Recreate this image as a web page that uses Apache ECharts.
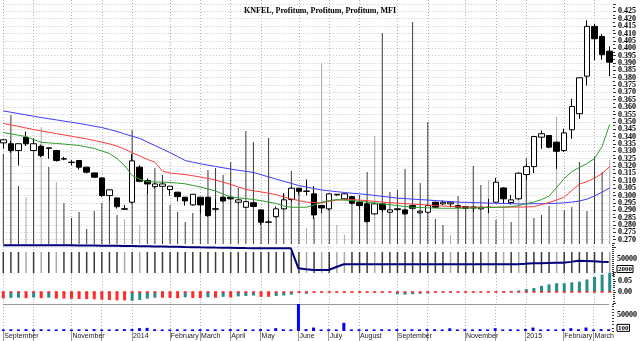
<!DOCTYPE html>
<html><head><meta charset="utf-8">
<script src="https://cdn.jsdelivr.net/npm/echarts@6/dist/echarts.min.js"></script>
<style>html,body{margin:0;padding:0;background:#fff}#c{width:640px;height:341px}</style>
</head><body><div id="c"></div>
<script>
const chartTitle = 'KNFEL, Profitum, Profitum, Profitum, MFI';
const weeks = [];
{ const d0 = Date.UTC(2013, 8, 6); for (let i = 0; i < 81; i++) { weeks.push(new Date(d0 + i * 7 * 86400000).toISOString().slice(0, 10)); } }
const monthTickIdx = [0,4,9,13,17,22,26,30,34,39,43,47,52,56,61,65,69,74,78];
const labelIdx = [0,9,17,22,26,30,34,39,43,47,52,61,69,74,78];
const labelText = ['September','November','2014','February','March','April','May','June','July','August','September','November','2015','February','March'];

const open = [0.3357,0.3351,0.3305,0.3395,0.3305,0.3334,0.3323,0.3305,0.3249,0.3226,
0.3237,0.3192,0.3153,0.3119,0.2999,0.2983,0.2909,0.2954,0.3192,0.3101,
0.3060,0.3062,0.3040,0.3022,0.2988,0.2936,0.2988,0.2988,0.2909,0.2988,
0.2988,0.2954,0.2920,0.2950,0.2902,0.2820,0.2856,0.2909,0.2972,0.3049,
0.3030,0.3011,0.2931,0.2909,0.3004,0.2977,0.2992,0.2954,0.2943,0.2875,
0.2943,0.2886,0.2909,0.2902,0.2931,0.2882,0.2886,0.2954,0.2943,0.2943,
0.2931,0.2924,0.2922,0.2909,0.2920,0.2954,0.3051,0.2952,0.2977,0.3142,
0.3196,0.3396,0.3407,0.3362,0.3305,0.3446,0.3555,0.3810,0.4148,0.4080,
0.3980];
const close = [0.3378,0.3305,0.3351,0.3351,0.3351,0.3271,0.3320,0.3237,0.3247,0.3224,
0.3192,0.3158,0.3124,0.2999,0.3038,0.2924,0.2907,0.3235,0.3096,0.3078,
0.3078,0.3078,0.3063,0.2992,0.2963,0.3008,0.2936,0.2863,0.2907,0.2963,
0.2977,0.2970,0.2958,0.2925,0.2818,0.2818,0.2909,0.2970,0.3049,0.3028,
0.3028,0.2868,0.2915,0.3011,0.3008,0.3011,0.2947,0.2931,0.2823,0.2943,
0.2904,0.2902,0.2904,0.2875,0.2913,0.2893,0.2931,0.2920,0.2954,0.2954,
0.2920,0.2913,0.2915,0.2920,0.2918,0.3090,0.2977,0.2970,0.3151,0.3196,
0.3400,0.3419,0.3328,0.3300,0.3425,0.3604,0.3799,0.4148,0.4064,0.3956,
0.3905];
const low = [0.3317,0.3290,0.3203,0.3335,0.3300,0.3260,0.3249,0.3230,0.3240,0.3205,
0.3176,0.3150,0.3120,0.2990,0.2965,0.2911,0.2905,0.2945,0.3090,0.3011,
0.3050,0.3055,0.2999,0.2960,0.2931,0.2930,0.2877,0.2855,0.2890,0.2955,
0.2970,0.2945,0.2915,0.2920,0.2800,0.2810,0.2850,0.2905,0.2960,0.3006,
0.3000,0.2841,0.2880,0.2900,0.2998,0.2970,0.2940,0.2905,0.2815,0.2870,
0.2885,0.2880,0.2895,0.2870,0.2905,0.2878,0.2880,0.2915,0.2935,0.2920,
0.2915,0.2905,0.2890,0.2905,0.2880,0.2950,0.2943,0.2938,0.2970,0.3106,
0.3151,0.3317,0.3320,0.3181,0.3295,0.3385,0.3521,0.3747,0.3917,0.3922,
0.3810];
const high = [0.3380,0.3370,0.3355,0.3434,0.3387,0.3345,0.3325,0.3310,0.3262,0.3240,
0.3240,0.3195,0.3155,0.3122,0.3040,0.2985,0.2936,0.3280,0.3205,0.3115,
0.3085,0.3100,0.3065,0.3025,0.2990,0.3010,0.2990,0.2990,0.2975,0.2990,
0.2992,0.2975,0.2960,0.2952,0.2905,0.2835,0.2925,0.3013,0.3060,0.3052,
0.3108,0.3063,0.2935,0.3015,0.3010,0.3015,0.2995,0.2958,0.2960,0.2950,
0.2948,0.2905,0.2912,0.2905,0.2935,0.2897,0.2935,0.2958,0.2965,0.2958,
0.2935,0.2928,0.2925,0.2922,0.2977,0.3119,0.3055,0.3004,0.3155,0.3215,
0.3405,0.3441,0.3410,0.3365,0.3453,0.3656,0.3800,0.4189,0.4166,0.4095,
0.4012];

const blueMA = [.3574,.3565,.3556,.3547,.3538,.3529,.3521,.3513,.3505,.3497,
.3489,.3480,.3470,.3461,.3448,.3434,.3418,.3402,.3387,.3363,
.3339,.3315,.3291,.3264,.3237,.3226,.3215,.3206,.3197,.3188,
.3179,.3171,.3164,.3156,.3141,.3126,.3111,.3096,.3082,.3067,
.3057,.3047,.3037,.3031,.3026,.3020,.3015,.3011,.3006,.3000,
.2994,.2988,.2982,.2979,.2975,.2972,.2969,.2965,.2962,.2958,
.2955,.2953,.2951,.2950,.2948,.2947,.2946,.2944,.2943,.2943,
.2944,.2944,.2945,.2947,.2950,.2955,.2962,.2975,.2996,.3023,
.3051];
const redMA = [.3489,.3479,.3469,.3458,.3448,.3438,.3429,.3420,.3411,.3402,
.3393,.3384,.3373,.3362,.3350,.3335,.3315,.3290,.3268,.3245,
.3226,.3165,.3152,.3147,.3142,.3134,.3125,.3115,.3105,.3090,
.3075,.3058,.3040,.3032,.3024,.3015,.3006,.2990,.2977,.2965,
.2955,.2952,.2950,.2960,.2969,.2971,.2972,.2968,.2965,.2960,
.2955,.2951,.2948,.2945,.2941,.2938,.2935,.2931,.2928,.2926,
.2923,.2921,.2920,.2920,.2920,.2920,.2920,.2921,.2921,.2922,
.2924,.2938,.2952,.2969,.2989,.3033,.3077,.3094,.3118,.3149,
.3196];
const greenMA = [.3427,.3418,.3409,.3400,.3380,.3361,.3357,.3353,.3349,.3344,
.3339,.3329,.3319,.3302,.3285,.3251,.3203,.3135,.3111,.3094,
.3091,.3090,.3088,.3084,.3079,.3068,.3057,.3044,.3030,.3010,
.2989,.2984,.2979,.2972,.2965,.2955,.2945,.2928,.2920,.2920,
.2920,.2935,.2954,.2965,.2972,.2969,.2965,.2960,.2955,.2949,
.2943,.2937,.2931,.2925,.2920,.2918,.2916,.2914,.2913,.2913,
.2913,.2914,.2915,.2916,.2918,.2919,.2921,.2924,.2931,.2945,
.2955,.2972,.2996,.3054,.3115,.3162,.3190,.3217,.3251,.3333,
.3482];

const profitumBars = [90,129,58,47,105,117,77,62,41,26,
32,15,33,41,46,29,25,114,19,51,
76,69,39,32,22,31,37,74,76,69,
82,56,113,102,22,106,29,51,73,52,
16,26,181,36,19,9,44,49,72,108,
211,52,54,75,222,61,122,25,19,9,
48,36,78,59,64,24,39,22,72,86,
26,29,38,127,34,37,82,33,87,72,
84];
const lightBarIdx = [3,5,7,16,18,40,42,44,45,49,59,64,66,68,73,80];

const profitumLine = [92800,92800,92800,92800,92800,92800,92800,92800,92800,92600,
92400,92200,91900,91600,91300,91100,90800,90600,90200,89800,
89400,88900,88400,88000,87500,87100,86600,86200,85700,85300,
84900,84500,84000,83600,83400,83400,83400,83400,83300,20900,
18000,15600,15600,15600,25000,33400,33400,33300,33400,33400,
33300,33400,33400,33300,33400,33400,33400,33300,33400,33400,
33400,33300,33400,33400,33400,33500,33500,33600,33800,35000,
36600,37000,37500,38000,38400,41000,44700,44000,42800,41500,
40600];

const oscRed = [-.029,null,null,-.028,null,-.028,null,-.030,-.030,-.031,
-.032,-.032,-.033,-.035,-.036,-.038,-.038,null,null,null,
null,-.026,-.027,-.028,null,-.027,-.028,null,-.026,null,
-.025,null,null,null,-.022,-.022,null,null,null,-.004,
null,-.003,-.003,-.002,-.003,-.002,-.003,-.002,-.003,-.002,
-.003,-.002,null,null,null,null,null,-.002,-.002,-.002,
-.002,-.002,-.002,-.002,null,null,null,null,null,null,
null,null,null,null,null,null,null,null,null,null,
null];
const oscTeal = [null,-.027,-.026,null,-.025,null,-.026,null,null,null,
null,null,null,null,null,null,null,-.040,-.036,-.030,
-.026,null,null,null,-.024,null,null,-.024,null,-.022,
null,-.020,-.018,-.016,null,null,-.018,-.016,-.012,null,
-.008,null,null,null,null,null,null,null,null,null,
null,null,-.010,-.012,-.010,-.008,-.006,null,null,null,
null,null,null,null,.002,.003,.004,.005,.007,.013,
.018,.028,.035,.040,.040,.044,.047,.057,.069,.079,
.087];
const oscSignal = [0,0,0,0,0,0,0,0,0,0, 0,0,0,0,0,0,0,0,0,0, 0,0,0,0,0,0,0,0,0,0,
0,0,0,0,0,0,0,0,0,0, 0,0,0,0,0,0,0,0,0,0, 0,0,0,0,0,0,0,0,0,0,
0,0,0,0,0,0,0,0,0,0, 0,0,0,0,0,0,0,0,0,0, 0];

const mfiVolume = [5000,5500,5000,6000,5000,5500,5000,5000,6000,5000,
5500,5000,6000,5000,5000,5500,6000,6500,9000,10000,
5500,5000,5000,5500,5000,5000,6000,5000,5500,5000,
6000,5000,5500,5000,6000,5000,9000,5500,5000,88000,
6000,11000,5000,5500,5000,26000,5000,5500,5000,5000,
5500,5000,6000,5000,5500,5000,6000,5500,5000,8500,
5000,5500,5000,6000,5000,9000,5000,5500,5000,6500,
11000,5000,5500,5000,6000,9000,5500,11000,5000,6000,
5500];

const chart = echarts.init(document.getElementById('c'), null, {renderer: 'canvas'});
const gL = 3.3, gR = 30.3, axOff = 3.3;
const serif = 'Liberation Serif';
const tickStyle = {color: '#333', width: 1};
const grids = [
  {left: gL, right: gR, top: 4, height: 243},
  {left: gL, right: gR, top: 0, height: 244},
  {left: gL, right: gR, top: 252, height: 21},
  {left: gL, right: gR, top: 243, height: 32},
  {left: gL, right: gR, top: 272.2, height: 30.8},
  {left: gL, right: gR, top: 304, height: 27}
];
const xAxes = grids.map((g, gi) => ({
  type: 'category', gridIndex: gi, data: weeks, boundaryGap: false,
  axisLine: {show: false}, axisTick: {show: false}, axisLabel: {show: false},
  splitLine: {show: [1, 3, 4, 5].includes(gi), interval: (i) => monthTickIdx.includes(i),
    lineStyle: {color: '#b0b0b0', type: [1, 2], width: 1}}
}));
xAxes[5].axisTick = {show: true, interval: (i) => monthTickIdx.includes(i), length: 10, lineStyle: {color: '#999'}};
xAxes[5].axisLabel = {show: true, interval: (i) => labelIdx.includes(i), align: 'left', margin: 2,
  fontFamily: 'Liberation Sans', fontSize: 7, color: '#222', padding: [0, 0, 0, 1],
  formatter: (v, i) => { const k = labelIdx.indexOf(i); return k >= 0 ? labelText[k] : ''; }};
xAxes.push({type: 'category', gridIndex: 5, data: weeks, boundaryGap: false, position: 'top',
  axisLine: {show: true, lineStyle: {color: '#999'}}, axisTick: {show: false}, axisLabel: {show: false}, splitLine: {show: false}});

const lblBase = {fontFamily: serif, fontSize: 8, fontWeight: 'bold', color: '#000', margin: 5};
const boxRich = {b: {fontFamily: serif, fontSize: 7, fontWeight: 'bold', color: '#000', borderColor: '#000', borderWidth: 1, padding: [0, 1, 0, 1]}};
const yAxes = [
  {type: 'value', gridIndex: 0, position: 'right', offset: axOff, min: 0.265, max: 0.43, interval: 0.005,
   axisLine: {show: false}, axisTick: {show: true, length: 3, lineStyle: tickStyle},
   minorTick: {show: true, splitNumber: 2, length: 2, lineStyle: tickStyle},
   axisLabel: Object.assign({}, lblBase, {formatter: (v) => (v > 0.2695 && v < 0.4255) ? v.toFixed(3) : ''}),
   splitLine: {show: true, lineStyle: {color: '#c4c4c4', type: [1, 2]}}},
  {type: 'value', gridIndex: 1, min: 0, max: 244, show: false},
  {type: 'value', gridIndex: 2, min: 0, max: 5, show: false},
  {type: 'value', gridIndex: 3, position: 'right', offset: axOff, min: 0, max: 100000, interval: 6250,
   axisLine: {show: false}, axisTick: {show: true, length: 2, lineStyle: tickStyle}, splitLine: {show: false},
   axisLabel: Object.assign({}, lblBase, {rich: boxRich, formatter: (v) => v === 50000 ? '50000' : (v === 18750 ? '{b|2000}' : '')})},
  {type: 'value', gridIndex: 4, position: 'right', offset: axOff, min: -0.05, max: 0.09, interval: 0.05,
   axisLine: {show: false}, axisTick: {show: true, length: 3, lineStyle: tickStyle},
   minorTick: {show: true, splitNumber: 5, length: 2, lineStyle: tickStyle}, splitLine: {show: false},
   axisLabel: Object.assign({}, lblBase, {formatter: (v) => (Math.abs(v) < 1e-9) ? '0.00' : (Math.abs(v - 0.05) < 1e-9 ? '0.05' : '')})},
  {type: 'value', gridIndex: 5, position: 'right', offset: axOff, min: 0, max: 86000, interval: 10000,
   axisLine: {show: false}, axisTick: {show: true, length: 2, lineStyle: tickStyle}, splitLine: {show: false},
   axisLabel: Object.assign({}, lblBase, {rich: boxRich, formatter: (v) => v === 50000 ? '50000' : (v === 10000 ? '{b|100}' : '')})}
];
const barColor = (p) => lightBarIdx.includes(p.dataIndex) ? '#a8a8a8' : '#3a3a3a';
const option = {
  animation: false,
  backgroundColor: '#fff',
  title: {text: chartTitle, left: 'center', top: 2, textStyle: {fontFamily: serif, fontSize: 8, fontWeight: 'bold', color: '#000'}},
  grid: grids, xAxis: xAxes, yAxis: yAxes,
  series: [
    {type: 'bar', xAxisIndex: 1, yAxisIndex: 1, data: profitumBars, barWidth: 1, z: 1, clip: false, itemStyle: {color: barColor}},
    {type: 'bar', xAxisIndex: 2, yAxisIndex: 2, data: profitumBars, barWidth: 1.5, z: 1, clip: true, itemStyle: {color: barColor}},
    {type: 'candlestick', xAxisIndex: 0, yAxisIndex: 0, barWidth: 6, clip: false, z: 3,
     data: open.map((o, i) => [o, close[i], low[i], high[i]]),
     itemStyle: {color: '#fff', color0: '#000', borderColor: '#000', borderColor0: '#000', borderWidth: 1}},
    {type: 'line', xAxisIndex: 0, yAxisIndex: 0, data: blueMA, symbol: 'none', z: 4, lineStyle: {color: '#3c3cff', width: 1}},
    {type: 'line', xAxisIndex: 0, yAxisIndex: 0, data: redMA, symbol: 'none', z: 4, lineStyle: {color: '#ff3c3c', width: 1}},
    {type: 'line', xAxisIndex: 0, yAxisIndex: 0, data: greenMA, symbol: 'none', z: 4, lineStyle: {color: '#2ca02c', width: 1}},
    {type: 'line', xAxisIndex: 3, yAxisIndex: 3, data: profitumLine, symbol: 'none', z: 4, lineStyle: {color: '#00007a', width: 2}},
    {type: 'bar', xAxisIndex: 4, yAxisIndex: 4, data: oscRed, barWidth: 3, barGap: '-100%', itemStyle: {color: '#ff2a2a'}},
    {type: 'bar', xAxisIndex: 4, yAxisIndex: 4, data: oscTeal, barWidth: 3, barGap: '-100%', itemStyle: {color: '#2a8b8b'}},
    {type: 'scatter', xAxisIndex: 4, yAxisIndex: 4, data: oscSignal, symbol: 'rect', symbolSize: [3, 2], z: 5, itemStyle: {color: '#ff2a2a'}},
    {type: 'bar', xAxisIndex: 5, yAxisIndex: 5, data: mfiVolume, barWidth: 3, clip: true, itemStyle: {color: '#0000ff'}}
  ]
};
chart.setOption(option);
</script>
</body></html>
